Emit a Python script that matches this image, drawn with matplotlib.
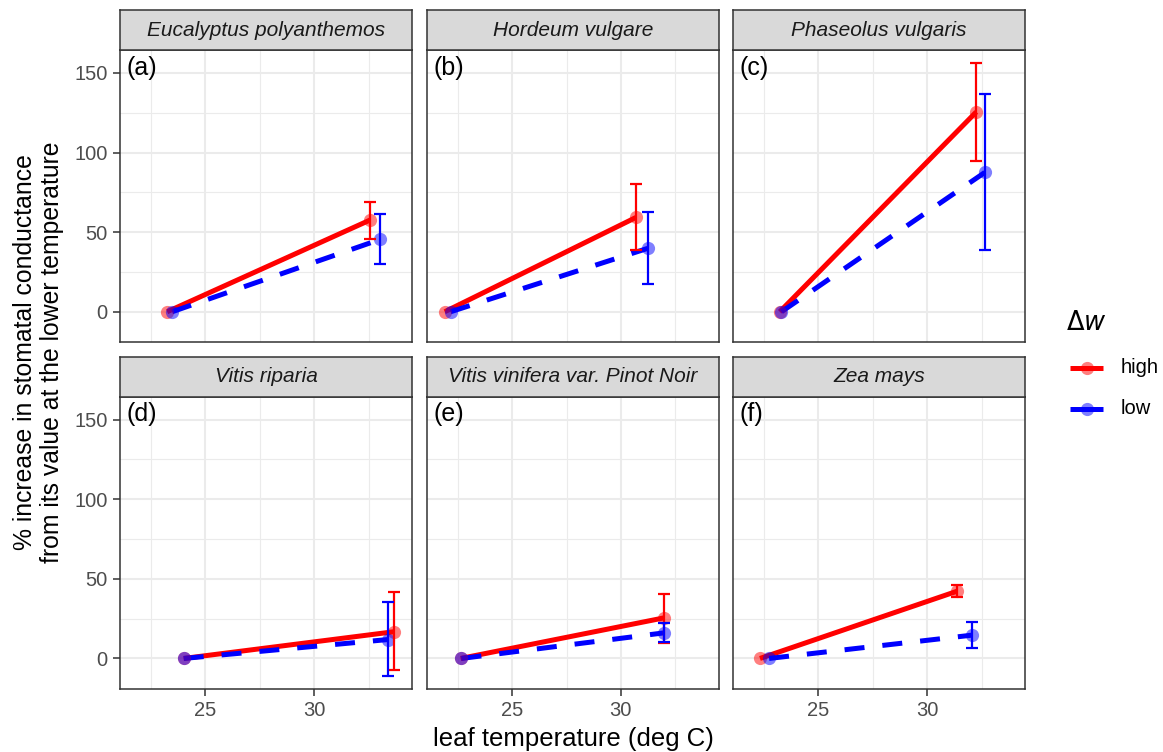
import matplotlib
matplotlib.use("Agg")
import matplotlib.pyplot as plt
from matplotlib.lines import Line2D
from matplotlib.ticker import MultipleLocator

plt.rcParams['font.family'] = ['Liberation Sans', 'DejaVu Sans']

# ---------------- data ----------------
species = ["Eucalyptus polyanthemos", "Hordeum vulgare", "Phaseolus vulgaris",
           "Vitis riparia", "Vitis vinifera var. Pinot Noir", "Zea mays"]
panel_labels = ["(a)", "(b)", "(c)", "(d)", "(e)", "(f)"]

# high delta-w group
high_t_cool = [23.24, 21.90, 23.22, 24.00, 22.63, 22.31]
high_t_warm = [32.57, 30.69, 32.26, 33.68, 31.99, 31.37]
high_pct = [57.6, 59.2, 125.5, 16.8, 25.5, 42.2]
high_lo = [46.0, 38.7, 94.6, -7.5, 9.8, 38.6]
high_hi = [69.0, 80.0, 156.3, 41.9, 40.2, 46.0]

# low delta-w group
low_t_cool = [23.47, 22.17, 23.30, 24.00, 22.67, 22.73]
low_t_warm = [33.03, 31.23, 32.65, 33.41, 32.00, 32.04]
low_pct = [45.4, 39.8, 87.5, 11.9, 16.1, 14.6]
low_lo = [30.0, 17.2, 38.7, -11.1, 10.5, 6.3]
low_hi = [61.3, 62.4, 136.7, 35.6, 22.0, 22.8]

groups = ["high", "low"]
colors = {"high": "#FF0000", "low": "#0000FF"}
styles = {"high": "-", "low": (0, (4, 3.6))}

# ---------------- layout ----------------
W, H = 1163, 752
fig = plt.figure(figsize=(W / 100, H / 100), dpi=100)
col_left = [120, 426.7, 733]
row_top = [50, 396.7]
pw, ph = 292, 292
strip_h = 40
XLIM = (21.07, 34.5)
YLIM = (-19.0, 164.4)

grid_c = "#EBEBEB"
dark = "#333333"

data = {
    "high": (high_t_cool, high_t_warm, high_pct, high_lo, high_hi),
    "low": (low_t_cool, low_t_warm, low_pct, low_lo, low_hi),
}

for i, sp in enumerate(species):
    r, c = divmod(i, 3)
    l, t = col_left[c], row_top[r]
    ax = fig.add_axes([l / W, 1 - (t + ph) / H, pw / W, ph / H])
    ax.set_xlim(*XLIM)
    ax.set_ylim(*YLIM)
    ax.xaxis.set_major_locator(MultipleLocator(5))
    ax.xaxis.set_minor_locator(MultipleLocator(2.5))
    ax.yaxis.set_major_locator(MultipleLocator(50))
    ax.yaxis.set_minor_locator(MultipleLocator(25))
    ax.grid(which="major", color=grid_c, lw=1.5, zorder=0)
    ax.grid(which="minor", color=grid_c, lw=0.8, zorder=0)
    ax.set_axisbelow(True)
    for s in ax.spines.values():
        s.set_color(dark)
        s.set_linewidth(1.1)
    ax.tick_params(which="minor", length=0)
    ax.tick_params(which="major", length=5, width=1.1, color=dark,
                   labelsize=14.5, labelcolor="#4D4D4D", pad=4)
    if c != 0:
        ax.tick_params(axis="y", which="both", left=False, labelleft=False)
    if r != 1:
        ax.tick_params(axis="x", which="both", bottom=False, labelbottom=False)

    # lines
    for g in groups:
        tc, tw, pct, lo, hi = data[g]
        ax.plot([tc[i], tw[i]], [0, pct[i]], color=colors[g], lw=3.6,
                linestyle=styles[g], solid_capstyle="butt",
                dash_capstyle="butt", zorder=3)
    # points
    for g in groups:
        tc, tw, pct, lo, hi = data[g]
        ax.plot([tc[i], tw[i]], [0, pct[i]], linestyle="none", marker="o",
                ms=9.5, color=colors[g], alpha=0.5, mec="none", zorder=4)
    # error bars
    for g in groups:
        tc, tw, pct, lo, hi = data[g]
        ax.errorbar([tw[i]], [pct[i]],
                    yerr=[[pct[i] - lo[i]], [hi[i] - pct[i]]],
                    fmt="none", ecolor=colors[g], elinewidth=1.6,
                    capsize=4, capthick=1.6, zorder=5)

    ax.text(0.023, 0.94, panel_labels[i], transform=ax.transAxes,
            ha="left", va="center", fontsize=18, color="black", zorder=6)

    # strip
    st = fig.add_axes([l / W, 1 - t / H, pw / W, strip_h / H])
    st.set_facecolor("#D9D9D9")
    st.set_xticks([])
    st.set_yticks([])
    for s in st.spines.values():
        s.set_color(dark)
        s.set_linewidth(1.1)
    st.text(0.5, 0.5, sp, transform=st.transAxes, ha="center", va="center",
            fontsize=15, style="italic", color="#1A1A1A")

# axis titles
fig.text(573 / W, 1 - 739 / H, "leaf temperature (deg C)", ha="center",
         va="center", fontsize=18.5, color="black")
fig.text(38.5 / W, 1 - 352 / H,
         "% increase in stomatal conductance\nfrom its value at the lower temperature",
         rotation=90, ha="center", va="center", fontsize=17.8, color="black",
         linespacing=1.12, multialignment="center")

# legend
lg = fig.add_axes([0, 0, 1, 1])
lg.set_xlim(0, W)
lg.set_ylim(H, 0)
lg.axis("off")
lg.text(1066, 323, r"$\Delta w$", ha="left", va="center", fontsize=18.5)
for g, yk in zip(groups, [367.5, 408.5]):
    lg.plot([1070, 1103], [yk, yk], color=colors[g], lw=3.6, solid_capstyle="butt")
    lg.plot([1086.5], [yk], marker="o", ms=9.5, color=colors[g], alpha=0.5,
            mec="none", linestyle="none")
    lg.text(1121, yk, g, ha="left", va="center", fontsize=14.5, color="black")

fig.savefig("out.png", dpi=100)
